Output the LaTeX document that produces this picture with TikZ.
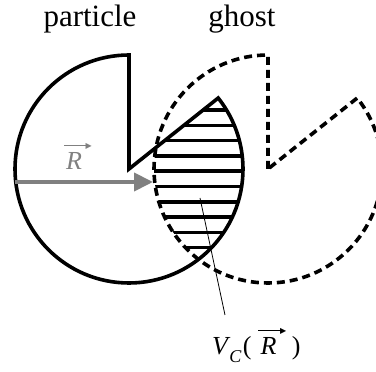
\documentclass[tikz,border=0pt]{standalone}
\usepackage{fontspec}
\setmainfont{Liberation Serif}
\newfontfamily\symfont{DejaVu Sans}
\usetikzlibrary{arrows.meta}
\definecolor{vecgray}{RGB}{128,128,128}
\newcommand{\vecR}{\makebox[0pt][l]{\raisebox{0.92em}{\hspace{-0.08em}\rule{0.95em}{0.055em}\hspace{-0.12em}\raisebox{-2.6pt}{\fontsize{8}{8}\selectfont\symfont ▶}}}\textit{R}}
\tikzset{
  outline/.style={line width=3.6pt, line join=miter},
  ghostline/.style={line width=3.6pt, dash pattern=on 8pt off 5pt},
  hatchline/.style={line width=3.5pt},
  leader/.style={line width=0.8pt},
  vecarrow/.style={vecgray, line width=4pt, -{Triangle[length=19pt,width=18pt]}},
  bigtext/.style={font=\fontsize{31}{33}\selectfont, inner sep=0pt},
  mathtext/.style={font=\fontsize{26}{28}\selectfont, inner sep=0pt}
}
\begin{document}
\begin{tikzpicture}[x=1pt,y=1pt]
\useasboundingbox (0,0) rectangle (376,372);
\clip (0,0) rectangle (376,372);
\coordinate (P) at (129,203);
\coordinate (G) at (268,203);
% hatched overlap
\begin{scope}
  \clip (P) -- ++(90:114) arc[start angle=90, end angle=398.5, radius=114] -- cycle;
  \clip (G) circle[radius=114];
  \foreach \k in {0,...,9} {
    \draw[hatchline] (130,{262-15.3*\k}) -- (260,{262-15.3*\k});
  }
\end{scope}
% particle
\draw[outline] (P) -- ++(90:114) arc[start angle=90, end angle=398.5, radius=114] -- cycle;
% ghost
\draw[ghostline] (G) -- ++(90:114) arc[start angle=90, end angle=398.5, radius=114] -- cycle;
% vector R
\coordinate (Rs) at (15,190);
\coordinate (Re) at (153,190);
\draw[vecarrow] (Rs) -- (Re);
\node[mathtext, text=vecgray, anchor=base west] (Rlab) at (66,202) {\vecR};
% labels
\node[bigtext, anchor=base] (part) at (90,345) {particle};
\node[bigtext, anchor=base] (gh) at (242,345) {ghost};
\node[mathtext, anchor=base west] (vc) at (212,17) {\textit{V}\hspace{-0.05em}\raisebox{-0.28em}{\fontsize{18}{18}\selectfont\textit{C}}\hspace{0.05em}(\hspace{0.35em}\vecR\hspace{0.6em})};
\coordinate (ls) at (200,174);
\coordinate (le) at (225,57);
\draw[leader] (ls) -- (le);
\end{tikzpicture}
\end{document}
